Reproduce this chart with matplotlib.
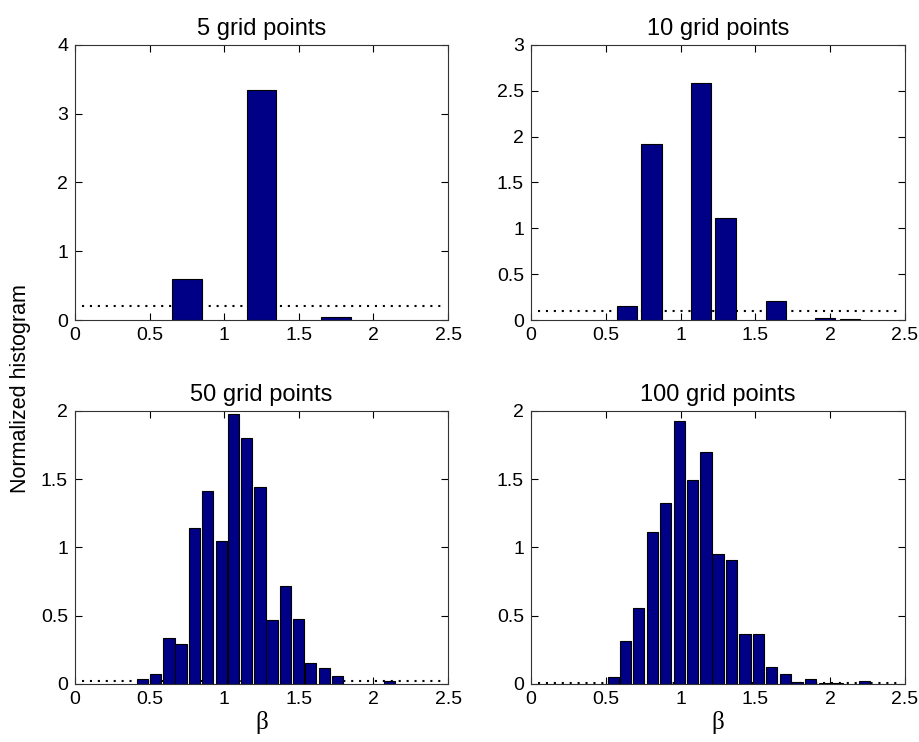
import numpy as np
import matplotlib
matplotlib.use("Agg")
import matplotlib.pyplot as plt
from matplotlib.ticker import FormatStrFormatter, MultipleLocator

plt.rcParams['font.family'] = ['Liberation Sans', 'DejaVu Sans']

# bin centres and normalized counts for each grid size
centers5 = [0.75, 1.25, 1.75]
heights5 = [0.60, 3.35, 0.05]

centers10 = [0.64, 0.805, 1.135, 1.30, 1.635, 1.965, 2.13]
heights10 = [0.15, 1.92, 2.59, 1.11, 0.21, 0.025, 0.012]

centers50 = [0.45, 0.54, 0.63, 0.71, 0.80, 0.89, 0.98, 1.06, 1.15,
             1.24, 1.32, 1.41, 1.50, 1.58, 1.67, 1.76, 2.11]
heights50 = [0.035, 0.07, 0.335, 0.29, 1.145, 1.41, 1.05, 1.975, 1.80,
             1.445, 0.465, 0.715, 0.475, 0.15, 0.115, 0.06, 0.02]

centers100 = [0.55, 0.63, 0.72, 0.81, 0.90, 0.99, 1.08, 1.17, 1.25, 1.34,
              1.43, 1.52, 1.61, 1.70, 1.78, 1.87, 1.96, 2.05, 2.23]
heights100 = [0.05, 0.315, 0.555, 1.11, 1.325, 1.925, 1.495, 1.70, 0.95, 0.905,
              0.365, 0.365, 0.125, 0.07, 0.012, 0.035, 0.005, 0.008, 0.022]

# uniform reference level (1/grid size)
levels = [0.2, 0.1, 0.02, 0.01]
titles = ['5 grid points', '10 grid points', '50 grid points', '100 grid points']
widths = [0.2, 0.135, 0.075, 0.075]
ymax = [4, 3, 2, 2]
ystep = [1, 0.5, 0.5, 0.5]

fig = plt.figure(figsize=(9.19, 7.42), dpi=100)
rects = [[0.0816, 0.5687, 0.406, 0.3707],
         [0.5778, 0.5687, 0.407, 0.3707],
         [0.0816, 0.0782, 0.406, 0.368],
         [0.5778, 0.0782, 0.407, 0.368]]

data = [(centers5, heights5), (centers10, heights10),
        (centers50, heights50), (centers100, heights100)]

for i in range(4):
    ax = fig.add_axes(rects[i])
    c, h = data[i]
    ax.plot([0.05, 2.45], [levels[i], levels[i]], color='black',
            linestyle=(0, (1, 2.8)), linewidth=1.5, zorder=1)
    ax.bar(c, h, width=widths[i], color='#000086', edgecolor='black',
           linewidth=0.8, zorder=2)
    ax.set_xlim(0, 2.5)
    ax.set_ylim(0, ymax[i])
    ax.xaxis.set_major_locator(MultipleLocator(0.5))
    ax.yaxis.set_major_locator(MultipleLocator(ystep[i]))
    ax.xaxis.set_major_formatter(FormatStrFormatter('%g'))
    ax.yaxis.set_major_formatter(FormatStrFormatter('%g'))
    ax.tick_params(direction='in', top=True, right=True, length=5,
                   width=0.8, labelsize=14, pad=5)
    for s in ax.spines.values():
        s.set_linewidth(0.8)
        s.set_color('#333333')
    ax.set_title(titles[i], fontsize=17, pad=7)
    if i >= 2:
        ax.set_xlabel('β', family='Liberation Serif', fontsize=18, labelpad=2)

fig.text(0.022, 0.477, 'Normalized histogram', rotation=90, fontsize=15.5,
         ha='center', va='center')

fig.savefig('out.png', dpi=100)
